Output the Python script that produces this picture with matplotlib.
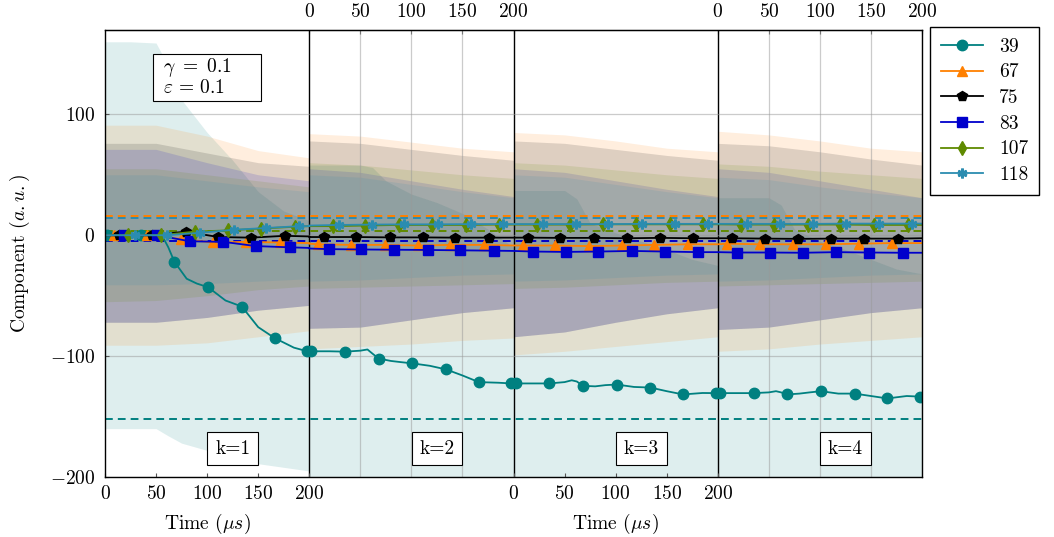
import matplotlib

matplotlib.use("Agg")
import matplotlib.pyplot as plt
import matplotlib.transforms as mtransforms
from matplotlib.patches import Rectangle
import numpy as np

plt.rcParams["font.family"] = "serif"
plt.rcParams["font.serif"] = ["cmr10", "DejaVu Serif"]
plt.rcParams["mathtext.fontset"] = "cm"
plt.rcParams["axes.formatter.use_mathtext"] = True
plt.rcParams["axes.unicode_minus"] = False
plt.rcParams["font.size"] = 14

PANELS = ["k=1", "k=2", "k=3", "k=4"]
PANEL_LEN = 200
XTICKS_LOCAL = [0, 50, 100, 150, 200]

SERIES = ["39", "67", "75", "83", "107", "118"]
COLORS = {"39": "#008080", "67": "#ff8000", "75": "#000000",
          "83": "#0000cc", "107": "#5f8a00", "118": "#2b8cb0"}
MARKERS = {"39": "o", "67": "^", "75": "p", "83": "s", "107": "d", "118": (6, 2, 0)}

# series 39: local times (per panel) and values for each panel
T_39 = [0, 2, 20, 35, 50, 57, 62, 68, 80, 90, 101, 118, 134, 150, 166, 185, 198, 200]
MARK_39 = [2, 35, 68, 101, 134, 166, 198]
Y_39 = [
    [0, 0, 0, 0, 0, -2, -10, -22, -36, -40, -43, -54, -59, -76, -85, -93, -96, -96],
    [-96, -96, -96, -96.3, -95.5, -94.5, -98, -102, -104, -105, -106, -108, -111, -116, -121.5, -122, -122.6, -122.6],
    [-122.6, -122.6, -122.6, -122.6, -121.5, -120, -121, -124.6, -125, -124, -123.5, -125.5, -126, -129, -131.7, -130.5, -130.6, -130.6],
    [-130.6, -130.6, -130.6, -130.6, -130, -129, -130, -131.7, -131, -130, -129, -131, -131, -133, -135, -133, -133.5, -133.5],
]

T_67 = [0, 9, 41, 74, 106, 138, 171, 200]
Y_67 = [
    [0, 0, 0, -3, -6, -5.5, -6, -6.5],
    [-7, -7.5, -8, -8, -8.5, -8, -8, -8.5],
    [-8.5, -8.5, -8.5, -9, -8.5, -8, -7.5, -7.5],
    [-7.5, -7, -7.5, -7.5, -7.5, -7, -6.5, -6.5],
]
T_75 = [0, 14, 46, 79, 111, 143, 176, 200]
Y_75 = [
    [0, 0, 0, 3, -1.5, -2, -0.5, -1],
    [-1.5, -1.5, -1.5, -1.8, -1.8, -2, -2, -2],
    [-2, -2, -2.2, -2.2, -2.5, -2.2, -2.5, -2.5],
    [-2.5, -2.5, -2.8, -3, -2.8, -2.8, -2.8, -2.5],
]
T_83 = [0, 19, 51, 83, 116, 148, 181, 200]
Y_83 = [
    [0, 0, 0, -5, -5.5, -9, -10, -10.5],
    [-11, -11.5, -11.8, -12, -12.2, -12.5, -12.8, -13],
    [-13, -13.5, -13.8, -13.5, -13, -13.5, -14, -14],
    [-14, -14.3, -14.3, -14.5, -14, -14.3, -14.5, -14.5],
]
T_107 = [0, 23, 55, 88, 120, 153, 186, 200]
Y_107 = [
    [0, 0, 0, 3, 4, 5.5, 7, 7.5],
    [7.5, 7.5, 8, 8.5, 8.5, 8.5, 8.8, 8.8],
    [8.8, 8.8, 8.8, 9, 9, 9, 9, 9],
    [9, 8.8, 8.8, 8.8, 8.8, 8.5, 8.5, 8.5],
]
T_118 = [0, 29, 61, 93, 126, 158, 190, 200]
Y_118 = [
    [0, 0, 0, 2, 4.5, 6, 7.5, 7.5],
    [8, 8.5, 8.8, 9, 9, 9.2, 9.2, 9.2],
    [9.2, 9.2, 9.2, 9.2, 9.4, 9.4, 9.4, 9.4],
    [9.4, 9.4, 9.4, 9.4, 9.6, 9.6, 9.6, 9.6],
]

# dashed reference levels
LEVELS = {"39": -152.4, "67": 15.9, "83": -4.5, "107": 3.7, "118": 14.0}

# spread bands (per panel)
BAND_T = [0, 50, 100, 150, 200]
TEAL_BAND_T = [0, 25, 50, 62, 75, 100, 125, 150, 175, 200]
UP_39 = [
    [160, 160, 159, 140, 112, 85, 62, 36, 20, 12],
    [58, 58, 58, 56, 45, 34, 27, 18, 5, -10],
    [37, 37, 37, 30, 10, 2, -5, -12, -20, -25],
    [31, 31, 31, 25, 5, -5, -12, -20, -28, -32],
]
LO_39 = [
    [-160, -160, -160, -166, -172, -178, -184, -189, -192, -195],
    [-260, -260, -260, -260, -260, -260, -260, -260, -260, -260],
    [-260, -260, -260, -260, -260, -260, -260, -260, -260, -260],
    [-260, -260, -260, -260, -260, -260, -260, -260, -260, -260],
]
UP_67 = [[91, 91, 82, 70, 64], [84, 82, 77, 72, 69], [85, 83, 78, 72, 69], [86, 83, 78, 72, 69]]
LO_67 = [[-91, -91, -89, -84, -79], [-94, -92, -90, -87, -85], [-99, -96, -92, -88, -84], [-96, -94, -90, -87, -84]]
UP_75 = [[76, 76, 68, 60, 57], [78, 76, 71, 66, 62], [78, 76, 71, 66, 62], [76, 74, 69, 63, 58]]
LO_75 = [[-72, -72, -68, -62, -58], [-77, -76, -70, -64, -60], [-84, -80, -72, -65, -60], [-78, -76, -70, -64, -60]]
UP_83 = [[71, 71, 60, 50, 45], [55, 52, 45, 38, 32], [55, 52, 45, 38, 32], [55, 52, 45, 38, 31]]
LO_83 = [[-72, -72, -68, -62, -58], [-77, -76, -70, -64, -60], [-84, -80, -72, -65, -60], [-78, -76, -70, -64, -60]]
UP_107 = [[55, 55, 50, 45, 40], [60, 58, 54, 50, 47], [60, 58, 54, 50, 47], [59, 57, 53, 50, 47]]
LO_107 = [[-55, -54, -50, -45, -42], [-44, -43, -42, -41, -40], [-44, -43, -41, -39, -38], [-42, -41, -40, -39, -38]]
UP_118 = [[50, 50, 45, 40, 36], [50, 48, 42, 36, 31], [50, 48, 42, 36, 31], [48, 46, 40, 35, 31]]
LO_118 = [[-41, -41, -40, -38, -36], [-38, -37, -35, -33, -32], [-38, -37, -35, -33, -32], [-38, -37, -35, -33, -32]]

LINES = {
    "39": (T_39, Y_39, MARK_39),
    "67": (T_67, Y_67, T_67[1:-1]),
    "75": (T_75, Y_75, T_75[1:-1]),
    "83": (T_83, Y_83, T_83[1:-1]),
    "107": (T_107, Y_107, T_107[1:-1]),
    "118": (T_118, Y_118, T_118[1:-1]),
}
BANDS = {
    "39": (TEAL_BAND_T, UP_39, LO_39),
    "67": (BAND_T, UP_67, LO_67),
    "75": (BAND_T, UP_75, LO_75),
    "83": (BAND_T, UP_83, LO_83),
    "107": (BAND_T, UP_107, LO_107),
    "118": (BAND_T, UP_118, LO_118),
}
MSIZE = {"39": 7.5, "67": 7.5, "75": 7.5, "83": 7.5, "107": 7.5, "118": 7}

fig = plt.figure(figsize=(10.54, 5.37), dpi=100)
ax = fig.add_axes([0.0996, 0.1117, 0.7752, 0.833])
xmax = PANEL_LEN * len(PANELS)

for name in SERIES:
    t, up, lo = BANDS[name]
    for p in range(len(PANELS)):
        x = np.array(t) + p * PANEL_LEN
        ax.fill_between(x, lo[p], up[p], color=COLORS[name], alpha=0.13, lw=0, zorder=1)

for name, level in LEVELS.items():
    ax.axhline(level, color=COLORS[name], lw=1.4, dashes=(4, 2.6), zorder=3)

handles = []
for name in SERIES:
    t, ys, marks = LINES[name]
    xs, yv, mark_idx = [], [], []
    for p in range(len(PANELS)):
        for ti, yi in zip(t, ys[p]):
            if ti in marks:
                mark_idx.append(len(xs))
            xs.append(ti + p * PANEL_LEN)
            yv.append(yi)
    mew = 2 if name == "118" else 1
    (h,) = ax.plot(xs, yv, color=COLORS[name], lw=1.3, marker=MARKERS[name],
                   markevery=mark_idx, ms=MSIZE[name], mew=mew, mec=COLORS[name],
                   label=name, zorder=4)
    handles.append(h)

ax.set_xlim(0, xmax)
ax.set_ylim(-200, 170)

# panel separators and grid (drawn over the bands, semi-transparent)
ax.set_xticks(np.arange(0, xmax + 1, 50), minor=True)
ax.grid(which="minor", axis="x", color="#999999", alpha=0.5, lw=0.9, zorder=1.5)
ax.set_yticks([-200, -100, 0, 100])
ax.grid(which="major", axis="y", color="#999999", alpha=0.5, lw=0.9, zorder=1.5)
ax.set_axisbelow(False)
for p in range(1, len(PANELS)):
    ax.axvline(p * PANEL_LEN, color="black", lw=1.0, zorder=2)

bottom_pos, bottom_lab, top_pos, top_lab = [], [], [], []
for p in range(len(PANELS)):
    for v in XTICKS_LOCAL:
        if p % 2 == 0:
            bottom_pos.append(p * PANEL_LEN + v)
            bottom_lab.append(f"${v}$")
        else:
            top_pos.append(p * PANEL_LEN + v)
            top_lab.append(f"${v}$")
ax.set_xticks(bottom_pos, bottom_lab)
ax.tick_params(axis="both", which="both", direction="in", length=3, color="#555555")
ax.tick_params(axis="x", which="minor", length=0)
ax.tick_params(axis="x", which="major", pad=6)
ax.tick_params(axis="y", pad=7)
top = ax.secondary_xaxis("top")
top.set_xticks(top_pos, top_lab)
top.tick_params(direction="in", length=3, pad=6, color="#555555")
for spine in ax.spines.values():
    spine.set_color("black")
    spine.set_linewidth(1.0)
    spine.set_zorder(5)

for p, lab in enumerate(PANELS):
    ax.text(p * PANEL_LEN + 125, -176.5, lab, ha="center", va="center", zorder=6,
            bbox=dict(boxstyle="square,pad=0.4", fc="white", ec="black", lw=0.8))

ax.add_patch(Rectangle((46.6, 111), 106.4, 39, fc="white", ec="black", lw=0.8, zorder=6))
ax.text(56.4, 138.4, "$\\gamma\\ =\\ 0.1$", ha="left", va="center", zorder=7)
ax.text(56.4, 121.9, "$\\varepsilon\\,=\\,0.1$", ha="left", va="center", zorder=7)

trans = mtransforms.blended_transform_factory(ax.transData, fig.transFigure)
for p in range(0, len(PANELS), 2):
    ax.text(p * PANEL_LEN + 100, 1 - 524 / 537, "Time ($\\mu s$)", transform=trans,
            ha="center", va="center")
fig.text(20 / 1054, 1 - 253 / 537, "Component ($a.u.$)", rotation=90,
         ha="center", va="center")

fig.legend(handles=handles, loc="upper left", bbox_to_anchor=(930 / 1054, 1 - 27 / 537),
           fancybox=False, edgecolor="black", framealpha=1, handlelength=2.2,
           labelspacing=0.4, borderaxespad=0, borderpad=0.55, handletextpad=0.8)

fig.savefig("out.png", dpi=100)
